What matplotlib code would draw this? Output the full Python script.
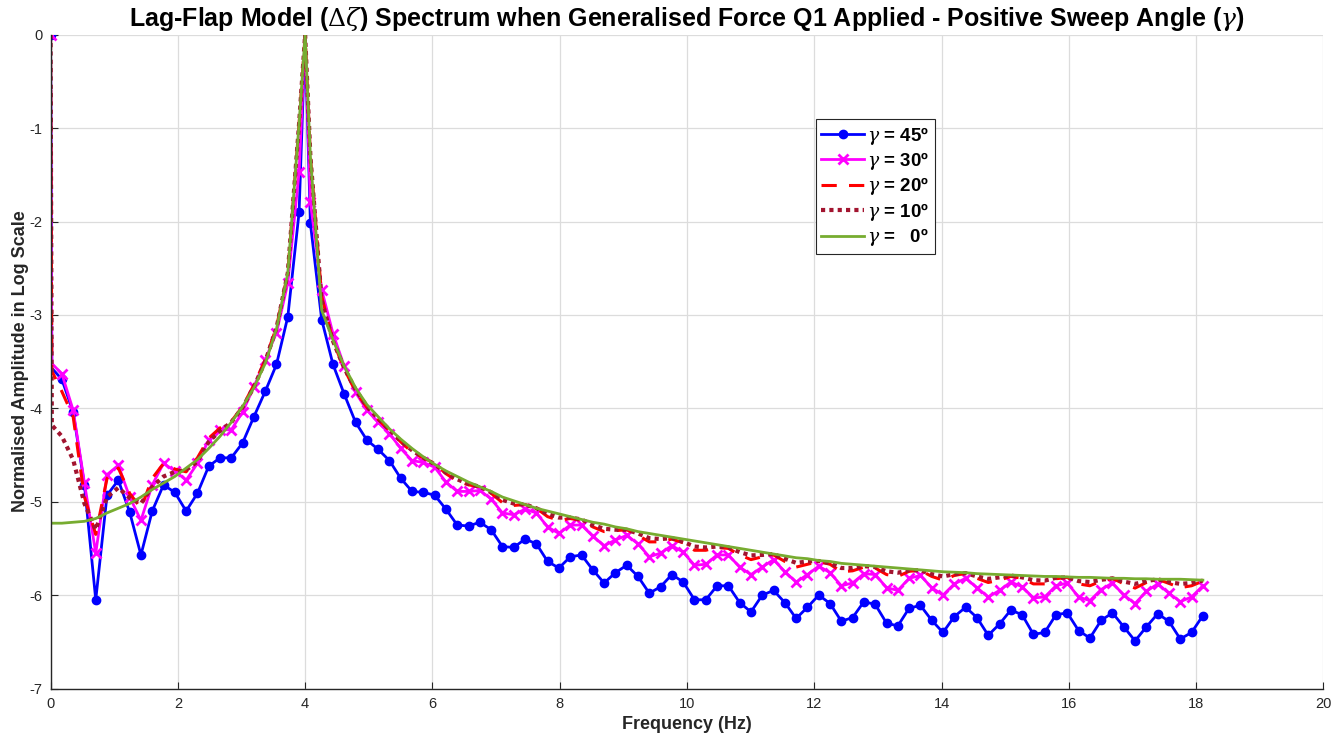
import numpy as np
import matplotlib
matplotlib.use("Agg")
import matplotlib.pyplot as plt

# ---------------- data ----------------
# frequency sampling grid (Hz), 103 samples from 0 to ~18.1 Hz
freq = np.round(np.arange(103) * 0.1775, 4)
f_start = 0.02      # first drop just after 0 Hz
f_peak = 4.0        # resonance peak

labels = [r"$\gamma$ = 45º", r"$\gamma$ = 30º", r"$\gamma$ = 20º",
          r"$\gamma$ = 10º", r"$\gamma$ =   0º"]

g45 = [0.00, -3.69, -4.04, -4.82, -6.05, -4.93, -4.77, -5.11, -5.57, -5.10,
       -4.82, -4.90, -5.10, -4.91, -4.62, -4.53, -4.53, -4.37, -4.09, -3.82,
       -3.53, -3.02, -1.90, -2.02, -3.05, -3.53, -3.85, -4.15, -4.34, -4.44,
       -4.56, -4.75, -4.89, -4.90, -4.93, -5.08, -5.25, -5.26, -5.22, -5.30,
       -5.48, -5.49, -5.40, -5.45, -5.64, -5.71, -5.59, -5.57, -5.73, -5.87,
       -5.76, -5.68, -5.80, -5.98, -5.91, -5.78, -5.86, -6.05, -6.05, -5.90,
       -5.90, -6.08, -6.18, -6.00, -5.95, -6.08, -6.25, -6.13, -6.00, -6.09,
       -6.28, -6.24, -6.07, -6.10, -6.30, -6.33, -6.14, -6.11, -6.27, -6.40,
       -6.23, -6.13, -6.24, -6.43, -6.31, -6.16, -6.21, -6.42, -6.40, -6.21,
       -6.19, -6.38, -6.46, -6.27, -6.19, -6.34, -6.49, -6.34, -6.20, -6.28,
       -6.47, -6.40, -6.22]
g30 = [0.00, -3.63, -4.02, -4.80, -5.55, -4.71, -4.61, -4.95, -5.20, -4.82,
       -4.59, -4.67, -4.77, -4.59, -4.34, -4.23, -4.23, -4.04, -3.77, -3.48,
       -3.19, -2.66, -1.47, -1.79, -2.73, -3.20, -3.55, -3.83, -4.02, -4.15,
       -4.27, -4.43, -4.56, -4.58, -4.63, -4.79, -4.89, -4.89, -4.88, -4.97,
       -5.12, -5.14, -5.08, -5.12, -5.27, -5.34, -5.25, -5.25, -5.37, -5.47,
       -5.41, -5.36, -5.45, -5.59, -5.55, -5.47, -5.54, -5.68, -5.67, -5.57,
       -5.57, -5.70, -5.78, -5.70, -5.62, -5.75, -5.86, -5.78, -5.69, -5.76,
       -5.90, -5.87, -5.77, -5.78, -5.92, -5.95, -5.82, -5.79, -5.92, -6.00,
       -5.88, -5.82, -5.92, -6.02, -5.95, -5.86, -5.91, -6.03, -6.02, -5.90,
       -5.87, -6.02, -6.06, -5.94, -5.87, -6.00, -6.09, -5.96, -5.88, -5.98,
       -6.07, -6.02, -5.90]
g20 = [0.00, -3.82, -4.09, -4.95, -5.35, -4.75, -4.64, -4.91, -5.07, -4.75,
       -4.59, -4.65, -4.68, -4.53, -4.32, -4.21, -4.14, -3.98, -3.75, -3.48,
       -3.13, -2.55, -0.95, -1.30, -2.80, -3.28, -3.58, -3.82, -3.99, -4.12,
       -4.24, -4.36, -4.47, -4.53, -4.59, -4.70, -4.78, -4.82, -4.84, -4.91,
       -5.01, -5.04, -5.03, -5.07, -5.16, -5.20, -5.18, -5.20, -5.27, -5.32,
       -5.31, -5.30, -5.36, -5.43, -5.43, -5.40, -5.44, -5.52, -5.52, -5.49,
       -5.50, -5.57, -5.62, -5.59, -5.57, -5.64, -5.70, -5.67, -5.64, -5.67,
       -5.75, -5.74, -5.70, -5.71, -5.78, -5.80, -5.745, -5.735, -5.80, -5.84,
       -5.79, -5.767, -5.82, -5.865, -5.84, -5.80, -5.82, -5.88, -5.88, -5.825,
       -5.81, -5.88, -5.90, -5.85, -5.82, -5.88, -5.925, -5.865, -5.83, -5.875,
       -5.92, -5.90, -5.85]
g10 = [0.00, -4.30, -4.55, -5.02, -5.30, -4.95, -4.85, -4.96, -5.02, -4.84,
       -4.73, -4.68, -4.66, -4.57, -4.36, -4.24, -4.15, -3.99, -3.77, -3.50,
       -3.14, -2.55, -0.95, -1.30, -2.85, -3.28, -3.57, -3.80, -3.98, -4.11,
       -4.23, -4.35, -4.45, -4.53, -4.60, -4.69, -4.76, -4.81, -4.84, -4.90,
       -4.98, -5.02, -5.03, -5.07, -5.13, -5.17, -5.17, -5.19, -5.25, -5.29,
       -5.30, -5.30, -5.34, -5.39, -5.40, -5.39, -5.43, -5.48, -5.49, -5.48,
       -5.49, -5.54, -5.575, -5.57, -5.56, -5.61, -5.655, -5.64, -5.635, -5.66,
       -5.71, -5.71, -5.69, -5.70, -5.745, -5.76, -5.735, -5.735, -5.775, -5.80,
       -5.776, -5.765, -5.80, -5.826, -5.81, -5.79, -5.81, -5.84, -5.845, -5.815,
       -5.81, -5.85, -5.86, -5.836, -5.82, -5.855, -5.88, -5.85, -5.83, -5.86,
       -5.88, -5.87, -5.845]
g0 = [-5.23, -5.23, -5.22, -5.21, -5.18, -5.12, -5.07, -5.02, -4.95, -4.87,
      -4.80, -4.73, -4.64, -4.55, -4.43, -4.30, -4.15, -3.98, -3.78, -3.52,
      -3.15, -2.55, -0.95, -1.30, -2.95, -3.27, -3.55, -3.78, -3.96, -4.09,
      -4.22, -4.33, -4.43, -4.52, -4.60, -4.67, -4.73, -4.79, -4.84, -4.89,
      -4.95, -4.99, -5.03, -5.07, -5.10, -5.13, -5.16, -5.19, -5.22, -5.24,
      -5.27, -5.29, -5.32, -5.34, -5.36, -5.38, -5.40, -5.42, -5.44, -5.46,
      -5.48, -5.50, -5.52, -5.54, -5.56, -5.58, -5.60, -5.61, -5.63, -5.64,
      -5.66, -5.67, -5.68, -5.69, -5.70, -5.71, -5.72, -5.73, -5.74, -5.75,
      -5.755, -5.76, -5.77, -5.775, -5.78, -5.785, -5.79, -5.795, -5.80, -5.80,
      -5.805, -5.81, -5.81, -5.815, -5.82, -5.82, -5.825, -5.825, -5.83, -5.83,
      -5.83, -5.835, -5.84]

# value just after 0 Hz (None = no extra point) and value at the peak
start_vals = [-3.57, -3.52, -3.60, -4.18, None]
peak_vals = [0.0, 0.0, 0.0, 0.0, 0.0]

series = [g45, g30, g20, g10, g0]

# ---------------- style ----------------
colors = ["#0000FF", "#FF00FF", "#FF0000", "#A2142F", "#77AC30"]
styles = [dict(ls="-", lw=2.0, marker="o", ms=6, mew=1.0),
          dict(ls="-", lw=2.0, marker="x", ms=6.5, mew=2.0),
          dict(ls=(0, (5, 4)), lw=2.2),
          dict(ls=(0, (1, 1)), lw=3.0),
          dict(ls="-", lw=2.0)]

plt.rcParams["font.family"] = ["Liberation Sans", "DejaVu Sans"]
plt.rcParams["mathtext.fontset"] = "dejavuserif"
plt.rcParams["axes.unicode_minus"] = False

fig = plt.figure(figsize=(13.34, 7.37), dpi=100)
ax = fig.add_axes([0.0379, 0.0658, 0.9542, 0.8871])

for vals, sv, pv, c, st, lab in zip(series, start_vals, peak_vals, colors, styles, labels):
    vals = np.asarray(vals, dtype=float)
    ipk = int(np.searchsorted(freq, f_peak))
    xs = list(freq[:1])
    ys = list(vals[:1])
    mk = [0]
    if sv is not None:
        xs.append(f_start)
        ys.append(sv)
    for i in range(1, len(freq)):
        if i == ipk:
            xs.append(f_peak)
            ys.append(pv)
        mk.append(len(xs))
        xs.append(freq[i])
        ys.append(vals[i])
    kw = dict(st)
    if "marker" in kw:
        kw["markevery"] = mk
    ax.plot(xs, ys, color=c, label=lab, **kw)

ax.set_xlim(0, 20)
ax.set_ylim(-7, 0)
ax.set_xticks(np.arange(0, 21, 2))
ax.set_yticks(np.arange(-7, 1, 1))
ax.grid(True, color="#DCDCDC", lw=0.9)
ax.set_axisbelow(True)
for s in ["top", "right"]:
    ax.spines[s].set_visible(False)
for s in ["left", "bottom"]:
    ax.spines[s].set_color("#262626")
    ax.spines[s].set_linewidth(1.0)
ax.tick_params(direction="in", length=5, colors="#262626", labelsize=10.5, pad=6)

ax.set_xlabel("Frequency (Hz)", fontsize=13, fontweight="bold", color="#262626", labelpad=4)
ax.set_ylabel("Normalised Amplitude in Log Scale", fontsize=13, fontweight="bold",
              color="#262626", labelpad=0)
ax.set_title(r"Lag-Flap Model ($\Delta\zeta$) Spectrum when Generalised Force Q1 Applied - Positive Sweep Angle ($\gamma$)",
             fontsize=18, fontweight="bold", pad=6)

leg = ax.legend(loc="upper left", bbox_to_anchor=(0.601, 0.871), borderaxespad=0,
                prop=dict(weight="bold", size=13.5), handlelength=2.3,
                handletextpad=0.15, labelspacing=0.18, fancybox=False,
                edgecolor="#262626", framealpha=1, borderpad=0.3)
leg.get_frame().set_linewidth(0.8)

fig.savefig("out.png", dpi=100)
